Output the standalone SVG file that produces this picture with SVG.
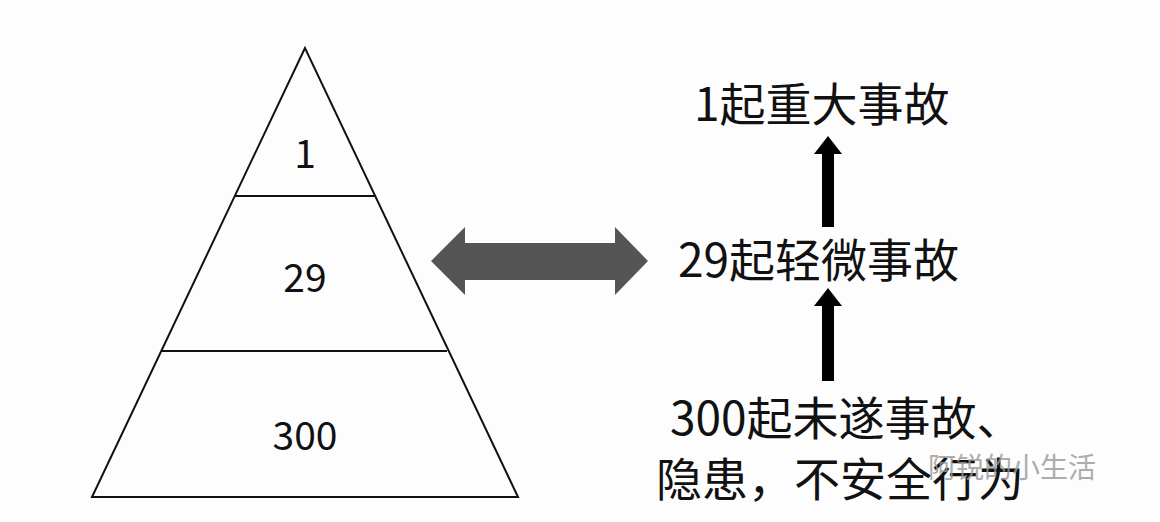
<svg xmlns="http://www.w3.org/2000/svg" width="1160" height="522" viewBox="0 0 1160 522">
<style>
.t{font-family:"Noto Sans CJK SC","Noto Sans",sans-serif;fill:#111;}
.n{font-size:39px;text-anchor:middle;}
.r{font-size:46px;}
.l{fill:none;stroke:#111;stroke-width:2;}
</style>
<rect width="1160" height="522" fill="#fdfdfe"/>
<g id="pyramid">
<polygon class="l" points="305,48 92,497 518,497"/>
<line class="l" x1="235" y1="196" x2="375" y2="196"/>
<line class="l" x1="162" y1="351" x2="447" y2="351"/>
<text class="t n" x="305" y="168">1</text>
<text class="t n" x="305" y="292">29</text>
<text class="t n" x="305" y="450">300</text>
</g>
<g id="labels">
<text class="t r" x="694" y="121">1起重大事故</text>
<text class="t r" x="678" y="277">29起轻微事故</text>
<text class="t r" x="670" y="435">300起未遂事故、</text>
<text class="t r" x="656" y="496">隐患，不安全行为</text>
</g>
<g id="connectors">
<polygon fill="#555" points="431,261 465,227 465,243 615,243 615,227 648,261 615,295 615,280 465,280 465,295"/>
<polygon fill="#000" points="828,136 842,154 834,154 834,227 822,227 822,154 814,154"/>
<polygon fill="#000" points="828,288 842,306 834,306 834,381 822,381 822,306 814,306"/>
</g>
<text x="928" y="478" style="font-family:'Noto Sans CJK SC',sans-serif;font-size:28px;fill:#999;opacity:0.8">阿锐的小生活</text>
</svg>
